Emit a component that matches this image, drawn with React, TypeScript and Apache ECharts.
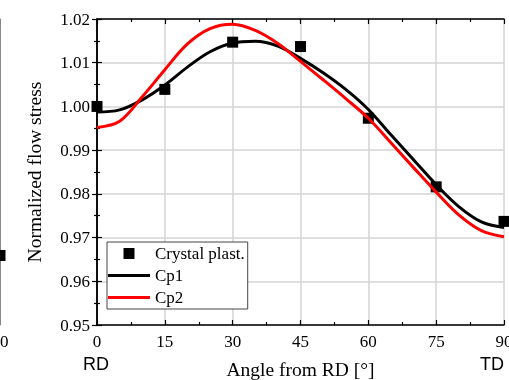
import React, { useEffect, useRef } from "react";
import * as echarts from "echarts";

// Crystal plasticity sample points
const sampleAngles = [0, 15, 30, 45, 60, 75, 90];
const crystalPlast = [1.0, 1.0039, 1.0147, 1.0137, 0.9973, 0.9816, 0.9737];

// Fitted curves
const curveAngles = [0, 5, 10, 15, 20, 25, 30, 35, 40, 45, 50, 55, 60, 65, 70, 75, 80, 85, 90];
const cp1 = [0.9987, 0.9992, 1.0015, 1.0049, 1.009, 1.0125, 1.0145, 1.0149, 1.0138, 1.011, 1.0077, 1.0039, 0.9993, 0.9935, 0.9878, 0.9821, 0.9771, 0.9736, 0.9723];
const cp2 = [0.9952, 0.9966, 1.0022, 1.0084, 1.0143, 1.0178, 1.0188, 1.0174, 1.0144, 1.0103, 1.0061, 1.0018, 0.9973, 0.9917, 0.986, 0.9804, 0.9752, 0.9716, 0.9702];

// Fragment of the neighbouring (left) panel, visible at the image edge
const leftPanelAngles = [90];
const leftPanelCrystal = [0.9659];
const leftPanelCp2Angles = [87, 90];
const leftPanelCp2 = [0.9683, 0.9683];

const xMin = 0;
const xMax = 90;
const xStep = 15;
const yMin = 0.95;
const yMax = 1.02;
const yStep = 0.01;

const SERIF = "'Liberation Serif', 'Times New Roman', serif";
const SANS = "'Liberation Sans', Arial, sans-serif";

const zip = (a: number[], b: number[]) => a.map((v, i) => [v, b[i]]);

export default function App() {
  const ref = useRef<HTMLDivElement>(null);
  useEffect(() => {
    if (!ref.current) return;
    const chart = echarts.init(ref.current, null, { renderer: "svg" });
    const axisLine = { show: true, lineStyle: { color: "#000", width: 1.5 } };
    const tick = { show: true, inside: true, length: 5, lineStyle: { color: "#000", width: 1.2 } };
    const minor = { show: true, splitNumber: 2, length: 3, lineStyle: { color: "#000", width: 1.2 } };
    const labelStyle = { fontFamily: SERIF, fontSize: 17, color: "#000" };
    const lineIcon = "path://M0,0L42,0L42,3L0,3Z";
    chart.setOption({
      animation: false,
      grid: [
        { left: 97, top: 19, width: 407, height: 306, outerBoundsMode: "none", containLabel: false },
        { left: -407, top: 19, width: 407, height: 306, outerBoundsMode: "none", containLabel: false },
      ],
      xAxis: [
        {
          type: "value", gridIndex: 0, min: xMin, max: xMax, interval: xStep,
          axisLine, axisTick: tick, minorTick: minor,
          splitLine: { show: true, lineStyle: { color: "#d4d4d4", width: 1.5 } },
          axisLabel: { ...labelStyle, margin: 8 },
          name: "Angle from RD [°]", nameLocation: "middle", nameGap: 34,
          nameTextStyle: { fontFamily: SERIF, fontSize: 19.5, color: "#000" },
        },
        {
          type: "value", gridIndex: 0, position: "top", min: xMin, max: xMax, interval: xStep,
          axisLine, axisTick: tick, minorTick: minor, splitLine: { show: false }, axisLabel: { show: false },
        },
        {
          type: "value", gridIndex: 1, min: xMin, max: xMax, interval: xStep,
          axisLine: { show: false }, axisTick: { show: false }, splitLine: { show: false },
          axisLabel: { ...labelStyle, margin: 8 },
        },
      ],
      yAxis: [
        {
          type: "value", gridIndex: 0, min: yMin, max: yMax, interval: yStep,
          axisLine, axisTick: tick, minorTick: minor,
          splitLine: { show: true, lineStyle: { color: "#d4d4d4", width: 1.5 } },
          axisLabel: { ...labelStyle, margin: 7, formatter: (v: number) => v.toFixed(2) },
          name: "Normalized flow stress", nameLocation: "middle", nameGap: 53, nameRotate: 90,
          nameTextStyle: { fontFamily: SERIF, fontSize: 19.5, color: "#000" },
        },
        {
          type: "value", gridIndex: 0, position: "right", min: yMin, max: yMax, interval: yStep,
          axisLine, axisTick: tick, minorTick: minor, splitLine: { show: false }, axisLabel: { show: false },
        },
        {
          type: "value", gridIndex: 1, min: yMin, max: yMax, interval: yStep, show: false,
        },
        {
          type: "value", gridIndex: 1, position: "right", min: yMin, max: yMax, interval: yStep,
          axisLine: { show: true, lineStyle: { color: "#888", width: 1 } },
          axisTick: { show: false }, splitLine: { show: false }, axisLabel: { show: false },
        },
      ],
      legend: {
        orient: "vertical", left: 107, top: 242,
        itemWidth: 42, itemHeight: 11, itemGap: 5,
        padding: [3, 3, 3, 1],
        borderColor: "#444", borderWidth: 1, backgroundColor: "#fff",
        selectedMode: false,
        textStyle: { fontFamily: SERIF, fontSize: 17, color: "#000" },
        data: [
          { name: "Crystal plast.", icon: "path://M0,0L10,0L10,10L0,10Z" },
          { name: "Cp1", icon: lineIcon },
          { name: "Cp2", icon: lineIcon },
        ],
      },
      series: [
        {
          name: "Crystal plast.", type: "scatter", xAxisIndex: 0, yAxisIndex: 0,
          symbol: "rect", symbolSize: 11, itemStyle: { color: "#000", opacity: 1 },
          data: zip(sampleAngles, crystalPlast), z: 2,
        },
        {
          name: "Cp1", type: "line", xAxisIndex: 0, yAxisIndex: 0, smooth: 0.35,
          symbol: "none", showSymbol: false, color: "#000", lineStyle: { color: "#000", width: 3 },
          data: zip(curveAngles, cp1), z: 3,
        },
        {
          name: "Cp2", type: "line", xAxisIndex: 0, yAxisIndex: 0, smooth: 0.35,
          symbol: "none", showSymbol: false, color: "#ff0000", lineStyle: { color: "#ff0000", width: 3 },
          data: zip(curveAngles, cp2), z: 3,
        },
        {
          name: "leftCrystal", type: "scatter", xAxisIndex: 2, yAxisIndex: 2,
          symbol: "rect", symbolSize: 11, itemStyle: { color: "#000", opacity: 1 }, clip: false,
          data: zip(leftPanelAngles, leftPanelCrystal),
        },
        {
          name: "leftCp2", type: "line", xAxisIndex: 2, yAxisIndex: 2,
          symbol: "none", lineStyle: { color: "#ff0000", width: 3 },
          data: zip(leftPanelCp2Angles, leftPanelCp2),
        },
      ],
      graphic: [
        {
          type: "text", left: 97 - 14, top: 355,
          style: { text: "RD", fontFamily: SANS, fontSize: 18, fill: "#000" },
        },
        {
          type: "text", left: 480, top: 355,
          style: { text: "TD", fontFamily: SANS, fontSize: 18, fill: "#000" },
        },
        {
          type: "text", left: -26, top: 355,
          style: { text: "TD", fontFamily: SANS, fontSize: 18, fill: "#888" },
        },
      ],
    });
    return () => chart.dispose();
  }, []);
  return <div ref={ref} style={{ width: 509, height: 380, position: "fixed", left: 0, top: 0 }} />;
}
